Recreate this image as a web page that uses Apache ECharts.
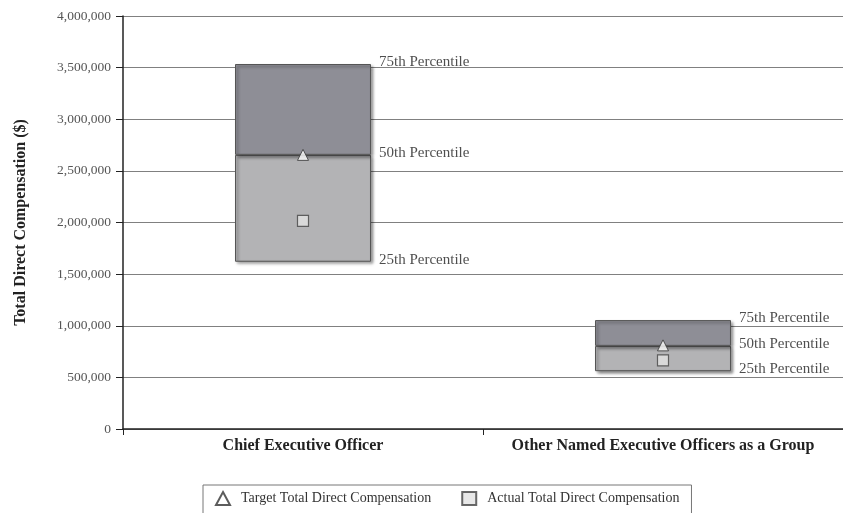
<!DOCTYPE html>
<html>
<head>
<meta charset="utf-8">
<script src="https://cdn.jsdelivr.net/npm/echarts@6/dist/echarts.min.js"></script>
<style>
  html, body { margin: 0; padding: 0; background: #fff; }
  #chart { width: 843px; height: 513px; }
</style>
</head>
<body>
<div id="chart"></div>
<script>
// data
var categories = ['Chief Executive Officer', 'Other Named Executive Officers as a Group']
var p25 = [1620000, 560000]
var p50 = [2655000, 805000]
var p75 = [3535000, 1055000]
var target = [2655000, 810000]
var actual = [2015000, 665000]
var pctNames = ['25th Percentile', '50th Percentile', '75th Percentile']

var serif = '"Liberation Serif", "DejaVu Serif", serif'
var chart = echarts.init(document.getElementById('chart'))

// label points: one per percentile per category
var labelData = []
categories.forEach(function (c, i) {
  [p25[i], p50[i], p75[i]].forEach(function (v, k) {
    labelData.push({ value: [i, v], name: pctNames[k] })
  })
})

var boxBorder = {
  borderColor: '#555',
  borderWidth: 1,
  shadowBlur: 3,
  shadowOffsetX: 2,
  shadowOffsetY: 2,
  shadowColor: 'rgba(0,0,0,0.45)'
}

chart.setOption({
  animation: false,
  textStyle: { fontFamily: serif },
  grid: { left: 123, right: -6, top: 16, bottom: 84 },
  xAxis: {
    type: 'category',
    data: categories,
    boundaryGap: true,
    axisLine: { lineStyle: { color: '#222', width: 1.5 } },
    axisTick: { show: true, interval: 0, length: 6, lineStyle: { color: '#222' } },
    axisLabel: { interval: 0, color: '#222', fontSize: 16, fontWeight: 'bold', fontFamily: serif, margin: 9 }
  },
  yAxis: {
    type: 'value',
    min: 0,
    max: 4000000,
    interval: 500000,
    name: 'Total Direct Compensation ($)',
    nameLocation: 'middle',
    nameGap: 94,
    nameTextStyle: { color: '#222', fontSize: 16, fontWeight: 'bold', fontFamily: serif },
    axisLine: { show: true, lineStyle: { color: '#222', width: 1.5 } },
    axisTick: { show: true, length: 7, lineStyle: { color: '#222' } },
    axisLabel: {
      color: '#555',
      fontSize: 13.5,
      fontFamily: serif,
      margin: 12,
      formatter: function (v) { return v.toLocaleString('en-US') }
    },
    splitLine: { lineStyle: { color: '#808080', width: 1 } }
  },
  legend: {
    top: 485,
    left: 203,
    data: ['Target Total Direct Compensation', 'Actual Total Direct Compensation'],
    borderColor: '#777',
    borderWidth: 1,
    padding: [6, 12, 14, 12],
    itemGap: 30,
    itemWidth: 14,
    itemHeight: 13,
    textStyle: { color: '#333', fontSize: 14, fontFamily: serif, padding: [0, 0, 0, 6] }
  },
  series: [
    {
      name: 'base',
      type: 'bar',
      stack: 'box',
      barWidth: 136,
      itemStyle: { color: 'transparent' },
      silent: true,
      data: p25
    },
    {
      name: 'lower',
      type: 'bar',
      stack: 'box',
      barWidth: 136,
      itemStyle: Object.assign({ color: '#b3b3b5' }, boxBorder),
      data: p50.map(function (v, i) { return v - p25[i] })
    },
    {
      name: 'upper',
      type: 'bar',
      stack: 'box',
      barWidth: 136,
      itemStyle: Object.assign({ color: '#8e8e96' }, boxBorder),
      data: p75.map(function (v, i) { return v - p50[i] })
    },
    {
      name: 'Target Total Direct Compensation',
      type: 'scatter',
      symbol: 'triangle',
      symbolSize: 11,
      z: 5,
      itemStyle: { color: '#fff', borderColor: '#333', borderWidth: 1 },
      data: target.map(function (v, i) { return [i, v] })
    },
    {
      name: 'Actual Total Direct Compensation',
      type: 'scatter',
      symbol: 'rect',
      symbolSize: 11,
      z: 5,
      itemStyle: { color: '#e2e2e2', borderColor: '#444', borderWidth: 1.2 },
      data: actual.map(function (v, i) { return [i, v] })
    },
    {
      name: 'pctLabels',
      type: 'scatter',
      symbolSize: 0,
      silent: true,
      z: 6,
      label: {
        show: true,
        position: 'right',
        distance: 76,
        offset: [0, -2],
        formatter: function (p) { return p.name },
        color: '#222',
        fontSize: 15,
        fontFamily: serif
      },
      data: labelData
    }
  ]
})
</script>
</body>
</html>
